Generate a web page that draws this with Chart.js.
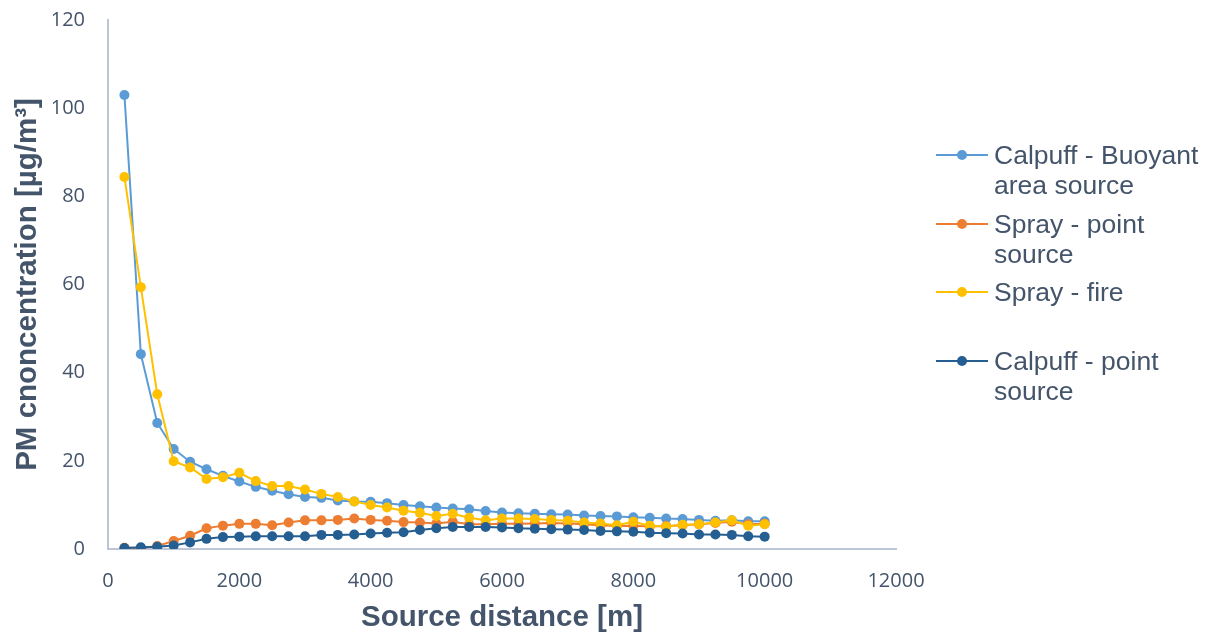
<!DOCTYPE html>
<html>
<head>
<meta charset="utf-8">
<script src="https://cdn.jsdelivr.net/npm/chart.js"></script>
<style>
  body { margin: 0; background: #fff; }
  #wrap { position: relative; width: 1206px; height: 639px; }
  #legend { position: absolute; left: 936px; top: 140px; font-family: "Liberation Sans", Arial, sans-serif;
            font-size: 26.5px; line-height: 30px; color: #44546a; white-space: nowrap; }
  .item { position: relative; height: 68.7px; padding-left: 58px; }
  .item .ln { position: absolute; left: 0; top: 14px; width: 52px; height: 2px; }
  .item .dot { position: absolute; left: 21px; top: 10px; width: 10px; height: 10px; border-radius: 50%; }
</style>
</head>
<body>
<div id="wrap">
  <canvas id="chart" width="1206" height="639"></canvas>
  <div id="legend"></div>
</div>
<script>
// source distance [m]
const distances = [250, 500, 750, 1000, 1250, 1500, 1750, 2000, 2250, 2500,
  2750, 3000, 3250, 3500, 3750, 4000, 4250, 4500, 4750, 5000,
  5250, 5500, 5750, 6000, 6250, 6500, 6750, 7000, 7250, 7500,
  7750, 8000, 8250, 8500, 8750, 9000, 9250, 9500, 9750, 10000];

const calpuffBuoyant = [103.0, 44.2, 28.6, 22.7, 19.8, 18.1, 16.6, 15.3, 14.1, 13.2,
  12.4, 11.8, 11.6, 11.0, 10.8, 10.7, 10.4, 10.0, 9.7, 9.4,
  9.2, 9.0, 8.6, 8.3, 8.1, 8.0, 7.9, 7.8, 7.6, 7.5,
  7.4, 7.2, 7.1, 6.9, 6.8, 6.6, 6.4, 6.5, 6.3, 6.3];

const sprayPoint = [0.3, 0.2, 0.7, 1.8, 3.0, 4.7, 5.3, 5.7, 5.7, 5.4,
  6.0, 6.5, 6.5, 6.6, 6.9, 6.6, 6.4, 6.1, 6.0, 5.8,
  6.2, 5.6, 5.6, 5.7, 5.7, 5.8, 5.9, 5.8, 5.6, 5.4,
  5.2, 5.3, 5.1, 5.2, 5.4, 5.6, 5.9, 6.2, 5.6, 5.7];

const sprayFire = [84.4, 59.4, 35.1, 19.9, 18.5, 15.9, 16.3, 17.3, 15.4, 14.3,
  14.3, 13.5, 12.5, 11.8, 10.8, 10.0, 9.4, 8.7, 8.2, 7.5,
  8.0, 7.1, 6.5, 6.9, 6.9, 6.8, 6.6, 6.4, 6.0, 5.8,
  5.4, 6.2, 5.3, 5.1, 5.5, 5.6, 6.0, 6.5, 5.3, 5.6];

const calpuffPoint = [0.2, 0.4, 0.5, 0.8, 1.5, 2.3, 2.7, 2.8, 2.9, 2.9,
  2.9, 2.9, 3.2, 3.2, 3.3, 3.5, 3.7, 3.8, 4.3, 4.7,
  5.0, 5.0, 5.0, 4.9, 4.7, 4.6, 4.5, 4.4, 4.3, 4.1,
  4.0, 3.9, 3.7, 3.6, 3.5, 3.3, 3.3, 3.2, 2.9, 2.8];

const xTicks = [0, 2000, 4000, 6000, 8000, 10000, 12000];
const yTicks = [0, 20, 40, 60, 80, 100, 120];

const seriesList = [
  { name: ["Calpuff - Buoyant", "area source"], data: calpuffBuoyant, color: "#5b9bd5" },
  { name: ["Spray - point", "source"], data: sprayPoint, color: "#ed7d31" },
  { name: ["Spray - fire", "\u00a0"], data: sprayFire, color: "#ffc000" },
  { name: ["Calpuff - point", "source"], data: calpuffPoint, color: "#255e91" },
];

const textColor = "#44546a";
const axisColor = "#bcc6d6";

const datasets = seriesList.map((s, i) => ({
  label: s.name.join(" ").trim(),
  data: distances.map((d, k) => ({ x: d, y: s.data[k] })),
  borderColor: s.color,
  backgroundColor: s.color,
  borderWidth: 2,
  pointRadius: 5,
  pointBorderWidth: 0,
  order: seriesList.length - i, // later series on top, like the original
}));

new Chart(document.getElementById("chart"), {
  type: "line",
  data: { datasets },
  options: {
    responsive: false,
    animation: false,
    devicePixelRatio: 1,
    layout: { padding: { left: 0, top: 20, right: 310, bottom: 0 } },
    plugins: { legend: { display: false }, tooltip: { enabled: false } },
    scales: {
      x: {
        type: "linear",
        min: 0,
        max: 12000,
        afterBuildTicks: (s) => { s.ticks = xTicks.map((v) => ({ value: v })); },
        afterFit: (s) => { s.height = 90; s.paddingLeft = 0; s.paddingRight = 0; },
        grid: { display: false, drawTicks: false },
        border: { color: axisColor, width: 2 },
        ticks: { color: textColor, font: { family: "Open Sans", size: 20 }, padding: 20, maxRotation: 0,
                 callback: (v) => String(v) },
        title: {
          display: true,
          text: "Source distance [m]",
          color: textColor,
          font: { family: "Liberation Sans", size: 29.5, weight: "bold" },
          padding: { top: 0, bottom: 3 },
        },
      },
      y: {
        min: 0,
        max: 120,
        afterBuildTicks: (s) => { s.ticks = yTicks.map((v) => ({ value: v })); },
        // fixed width, and no extra room for the end labels
        afterFit: (s) => { s.width = 108; s.paddingTop = 0; s.paddingBottom = 0; },
        grid: { display: false, drawTicks: false },
        border: { color: axisColor, width: 2 },
        ticks: { color: textColor, font: { family: "Open Sans", size: 20 }, padding: 23,
                 callback: (v) => String(v) },
        title: {
          display: true,
          text: "PM cnoncentration [\u00b5g/m\u00b3]",
          color: textColor,
          font: { family: "Liberation Sans", size: 29.5, weight: "bold" },
          padding: { top: 10, bottom: 0 },
        },
      },
    },
  },
});

// legend with wrapped labels, built from the series list
const legend = document.getElementById("legend");
seriesList.forEach((s) => {
  const item = document.createElement("div");
  item.className = "item";
  item.innerHTML = '<span class="ln" style="background:' + s.color + '"></span>' +
    '<span class="dot" style="background:' + s.color + '"></span>' +
    s.name.join("<br>");
  legend.appendChild(item);
});
</script>
</body>
</html>
